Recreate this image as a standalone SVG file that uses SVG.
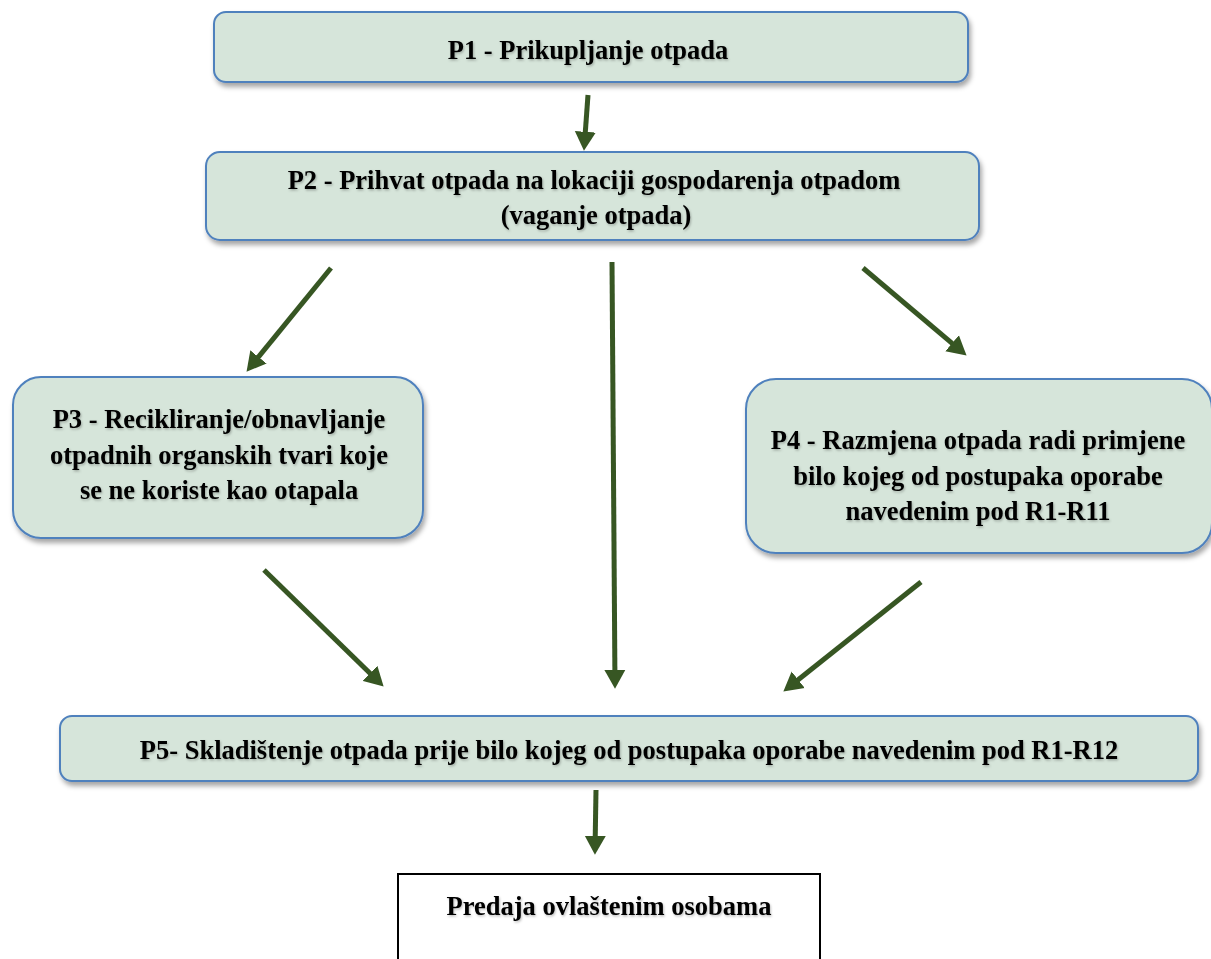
<svg xmlns="http://www.w3.org/2000/svg" width="1211" height="959" viewBox="0 0 1211 959">
<style>
.box{fill:#d6e5da;stroke:#4f81bd;stroke-width:2;filter:url(#sh)}
.t{font-family:"Liberation Serif","Times New Roman",serif;font-weight:bold;font-size:26.5px;fill:#000;text-anchor:middle;filter:url(#tsh)}
.c{stroke:#375623;stroke-width:5;fill:none;marker-end:url(#ah)}
</style>
<defs>
<filter id="sh" x="-10%" y="-20%" width="120%" height="150%">
<feDropShadow dx="2" dy="4" stdDeviation="2.5" flood-color="#000" flood-opacity="0.35"/>
</filter>
<filter id="tsh" x="-5%" y="-30%" width="110%" height="160%">
<feDropShadow dx="1" dy="1.5" stdDeviation="1" flood-color="#000" flood-opacity="0.25"/>
</filter>
<marker id="ah" markerUnits="userSpaceOnUse" markerWidth="20" markerHeight="22" refX="3" refY="10" orient="auto" viewBox="0 0 19 20">
<path d="M0,0 L18,10 L0,20 Z" fill="#375623"/>
</marker>
</defs>
<g id="connectors">
<line class="c" x1="588" y1="95" x2="585.1" y2="135"/>
<line class="c" x1="331" y1="268" x2="256.5" y2="359.4"/>
<line class="c" x1="863" y1="268" x2="954.5" y2="345.3"/>
<line class="c" x1="264" y1="570" x2="372.3" y2="675.5"/>
<line class="c" x1="612" y1="262" x2="614.9" y2="673"/>
<line class="c" x1="921" y1="582" x2="795.7" y2="681.7"/>
<line class="c" x1="596" y1="790" x2="595.2" y2="839"/>
</g>
<g id="p1">
<rect class="box" x="214" y="12" width="754" height="70" rx="12"/>
<text class="t" x="588" y="59">P1 - Prikupljanje otpada</text>
</g>
<g id="p2">
<rect class="box" x="206" y="152" width="773" height="88" rx="14"/>
<text class="t" x="594" y="189">P2 - Prihvat otpada na lokaciji gospodarenja otpadom</text>
<text class="t" x="596" y="224">(vaganje otpada)</text>
</g>
<g id="p3">
<rect class="box" x="13" y="377" width="410" height="161" rx="28"/>
<text class="t" x="219" y="428">P3 - Recikliranje/obnavljanje</text>
<text class="t" x="219" y="464">otpadnih organskih tvari koje</text>
<text class="t" x="219" y="499">se ne koriste kao otapala</text>
</g>
<g id="p4">
<rect class="box" x="746" y="379" width="466" height="174" rx="30"/>
<text class="t" x="978" y="449">P4 - Razmjena otpada radi primjene</text>
<text class="t" x="978" y="485">bilo kojeg od postupaka oporabe</text>
<text class="t" x="978" y="520">navedenim pod R1-R11</text>
</g>
<g id="p5">
<rect class="box" x="60" y="716" width="1138" height="65" rx="12"/>
<text class="t" x="629" y="759">P5- Skladištenje otpada prije bilo kojeg od postupaka oporabe navedenim pod R1-R12</text>
</g>
<g id="predaja">
<rect x="398" y="874" width="422" height="100" fill="#fff" stroke="#000" stroke-width="2"/>
<text class="t" x="609" y="915">Predaja ovlaštenim osobama</text>
</g>
</svg>
